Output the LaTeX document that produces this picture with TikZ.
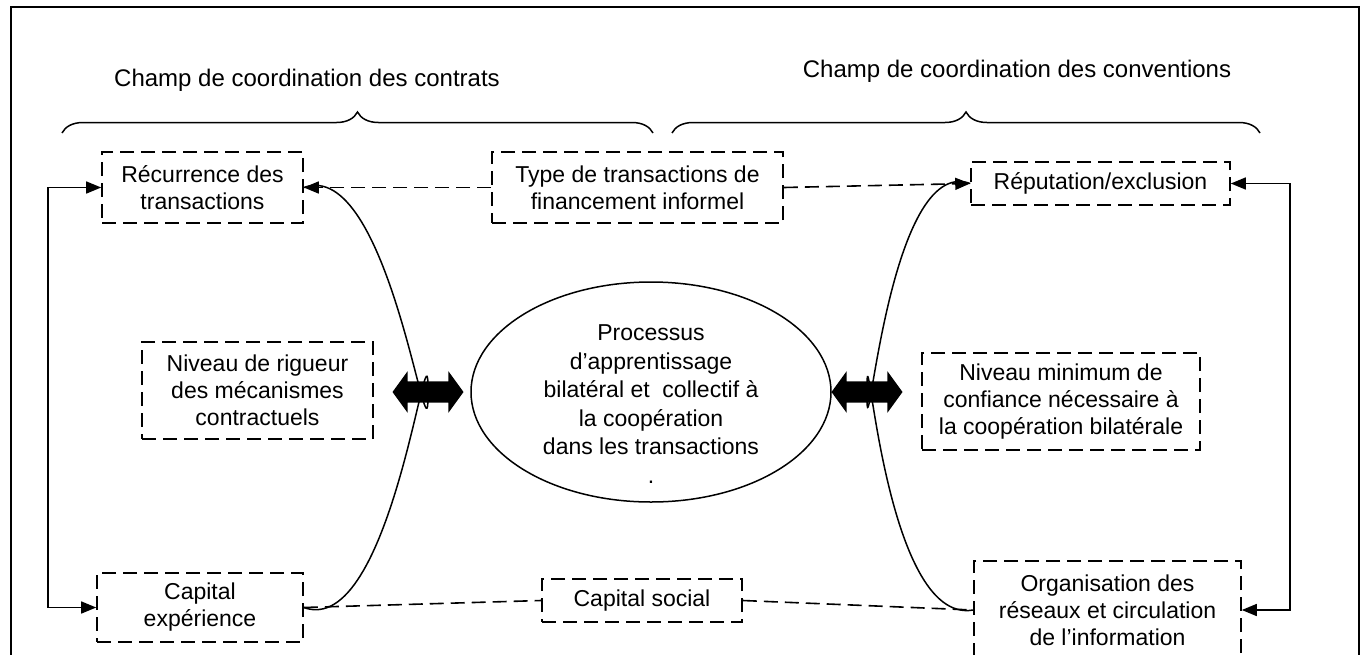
\documentclass[tikz,border=0pt]{standalone}
\usepackage{fontspec}
\setmainfont{Liberation Sans}
\usetikzlibrary{arrows.meta,shapes.geometric,shapes.arrows,decorations.pathreplacing}

\begin{document}
\begin{tikzpicture}[x=1pt,y=-1pt,
  >={Triangle[length=15pt,width=12pt]},
  box/.style={draw,dash pattern=on 14pt off 7pt,line width=1.6pt,align=center,inner sep=0pt,font=\fontsize{23}{27}\selectfont},
  link/.style={line width=1.5pt,->},
  dlink/.style={line width=1.6pt,dash pattern=on 14pt off 7pt},
  fat/.style={double arrow,fill=black,draw=none,minimum height=71pt,inner xsep=0pt,inner ysep=10.5pt,double arrow head extend=10pt,double arrow tip angle=108},
  title/.style={font=\fontsize{24}{28}\selectfont}]
\useasboundingbox (0,0) rectangle (1363,654);
\clip (0,0) rectangle (1363,654);
% frame
\draw[line width=2.2pt] (11,680) -- (11,7) -- (1359,7) -- (1359,680);
% titles and braces
\node[title] (titleL) at (307,80) {Champ de coordination des contrats};
\node[title] (titleR) at (1017,71) {Champ de coordination des conventions};
\draw[line width=1.5pt,decorate,decoration={brace,amplitude=21pt}] (62,133) -- (653,133);
\draw[line width=1.5pt,decorate,decoration={brace,amplitude=21pt}] (672,133) -- (1260,133);
% drawing nodes
\node[box,minimum width=201pt,minimum height=71pt] (rec) at (202.5,187.5) {Récurrence des\\transactions};
\node[box,minimum width=291pt,minimum height=71pt] (type) at (637.5,187.5) {Type de transactions de\\financement informel};
\node[box,minimum width=259pt,minimum height=43pt] (rep) at (1100.5,183.5) {Réputation/exclusion};
\node[box,minimum width=231pt,minimum height=97pt] (rig) at (257.5,390.5) {Niveau de rigueur\\des mécanismes\\contractuels};
\node[draw,ellipse,line width=1.5pt,minimum width=360pt,minimum height=220pt,inner sep=0pt] (proc) at (651,392) {};
\node[align=center,font=\fontsize{23}{28.5}\selectfont] (proctext) at (651,404) {Processus\\d’apprentissage\\bilatéral et\ \ collectif à\\la coopération\\dans les transactions\\.};
\node[box,minimum width=278pt,minimum height=97pt] (mini) at (1061,401.5) {Niveau minimum de\\confiance nécessaire à\\la coopération bilatérale};
\node[box,minimum width=206pt,minimum height=69pt] (capx) at (200,607.5) {Capital\\expérience};
\node[box,minimum width=200pt,minimum height=43pt] (caps) at (642,600.5) {Capital social};
\node[box,minimum width=267pt,minimum height=98pt] (org) at (1107.5,610) {Organisation des\\réseaux et circulation\\de l’information};
\node[fat] (darrL) at (428,392) {};
\node[fat] (darrR) at (867,392) {};
\coordinate (topL) at (428,382);
\coordinate (botL) at (428,403);
\coordinate (topR) at (867,382);
\coordinate (botR) at (867,403);
% drawing edges
\draw[line width=1.5pt,<->] (rec.west) -- ++(-53,0) |- (capx.west);
\draw[line width=1.5pt,<->] (rep.east) -- ++(59,0) |- (org.east);
\draw[dlink,->] (type.west) -- (rec.east);
\draw[dlink,->] (type.east) -- (rep.west);
\draw[dlink] (capx.east) -- (caps.west);
\draw[dlink] (caps.east) -- (org.west);
\draw[link] (rec.east) to[out=20,in=-90] (topL);
\draw[link] (capx.east) to[out=-20,in=90] (botL);
\draw[link] (rep.west) to[out=160,in=-90] (topR);
\draw[link] (org.west) to[out=190,in=90] (botR);
\end{tikzpicture}
\end{document}
